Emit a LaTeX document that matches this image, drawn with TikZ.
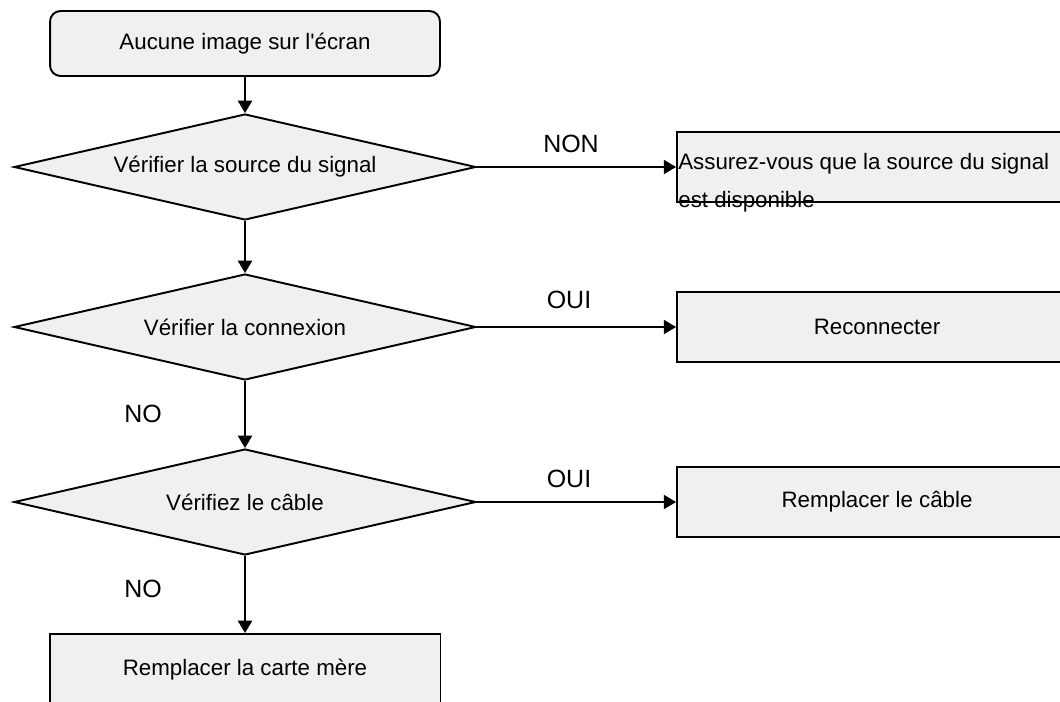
\documentclass[tikz,border=0pt]{standalone}
\usepackage{fontspec}
\setmainfont{Liberation Sans}
\usetikzlibrary{shapes.geometric,arrows.meta}

\begin{document}
\begin{tikzpicture}[
		x=0.02cm, y=-0.02cm,
		every node/.style={font=\fontsize{12.7}{15}\selectfont},
		box/.style={rectangle,draw,line width=1.1pt,fill=black!6,minimum width=8cm,minimum height=1.4cm},
		startbox/.style={box,rounded corners=6pt,minimum width=7.8cm,minimum height=1.3cm},
		test/.style={diamond,draw,line width=1.1pt,fill=black!6,aspect=4.4,minimum width=9.24cm,minimum height=2.12cm,inner sep=0pt},
		answer/.style={font=\fontsize{14.2}{17}\selectfont},
		link/.style={line width=1.1pt,-{Triangle[length=7pt,width=8pt]}}]
		
		\clip (0,0) rectangle (1060,702);
		
		\node[startbox] (start) at (245,43.5) {Aucune image sur l\textquotesingle écran};
		\node[test] (src) at (245,167) {Vérifier la source du signal};
		\node[test] (conn) at (245,327) {Vérifier la connexion};
		\node[test] (cable) at (245,502) {Vérifiez le câble};
		\node[box,minimum height=1.44cm,minimum width=7.82cm] (board) at (245,670) {Remplacer la carte mère};
		
		\node[box] (srcok) at (877,167) {};
		\node[anchor=north west,align=left,inner sep=0pt,font=\fontsize{12.7}{21.5}\selectfont] (srctext) at (678,153)
			{Assurez-vous que la source du signal\\est disponible};
		\node[box] (reconn) at (877,327) {Reconnecter};
		\node[box] (newcable) at (877,502) {Remplacer le câble};
		
		\draw[link] (start) -- (src);
		\draw[link] (src) -- (conn);
		\draw[link] (conn) -- (cable);
		\draw[link] (cable) -- (board);
		\draw[link] (src.east) -- (srcok.west);
		\draw[link] (conn.east) -- (reconn.west);
		\draw[link] (cable.east) -- (newcable.west);
		
		\node[answer] (non) at (571,144) {NON};
		\node[answer] (oui1) at (569,300) {OUI};
		\node[answer] (oui2) at (569,479) {OUI};
		\node[answer] (no1) at (143,414) {NO};
		\node[answer] (no2) at (143,589) {NO};
		
\end{tikzpicture}
\end{document}
